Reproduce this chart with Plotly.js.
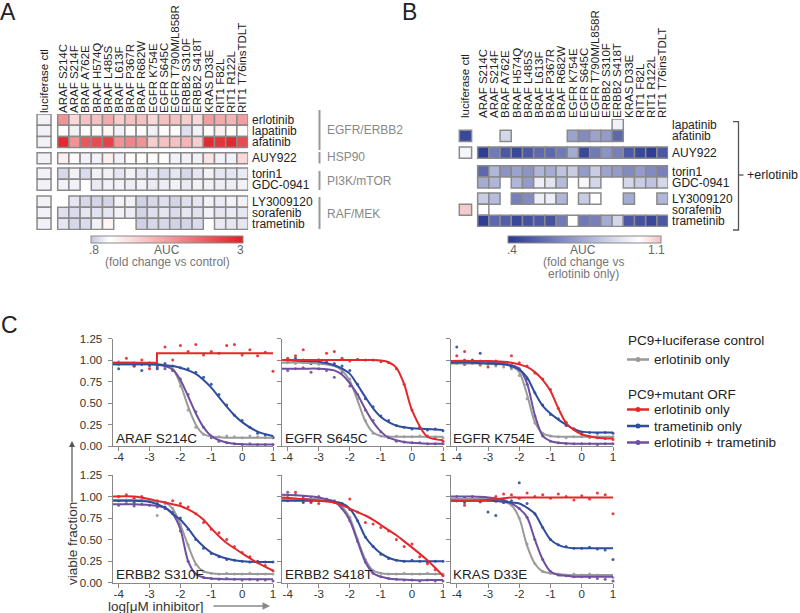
<!DOCTYPE html>
<html><head><meta charset="utf-8">
<script src="https://cdn.plot.ly/plotly-3.0.1.min.js"></script>
<style>html,body{margin:0;padding:0;background:#fff}#chart{width:800px;height:613px}</style>
</head><body><div id="chart"></div>
<script>
// ---------- Panel A / B data ----------
const mutants = ['ARAF S214C','ARAF S214F','BRAF A762E','BRAF H574Q','BRAF L485S','BRAF L613F','BRAF P367R','BRAF R682W','EGFR K754E','EGFR S645C','EGFR T790M/L858R','ERBB2 S310F','ERBB2 S418T','KRAS D33E','RIT1 F82L','RIT1 R122L','RIT1 T76insTDLT'];
const ctlLabel = 'luciferase ctl';
const drugsA = ['erlotinib','lapatinib','afatinib','AUY922','torin1','GDC-0941','LY3009120','sorafenib','trametinib'];
const drugsB = ['lapatinib','afatinib','AUY922','torin1','GDC-0941','LY3009120','sorafenib','trametinib'];

// Panel A: AUC fold change vs control (per drug, per mutant)
const aErlotinib  = [2.0,1.4,1.6,1.6,1.8,1.5,1.6,1.6,1.4,1.6,1.6,1.5,1.4,1.9,1.8,1.7,1.9];
const aLapatinib  = [1.1,1.0,1.1,1.1,1.15,1.0,1.1,1.1,1.0,1.1,1.05,0.92,1.0,1.1,1.2,1.1,1.1];
const aAfatinib   = [2.9,2.0,2.5,2.6,2.7,2.0,2.1,2.0,1.5,1.6,1.6,1.7,1.5,2.9,2.8,2.9,2.6];
const aAUY922     = [1.2,1.1,1.0,1.0,1.2,1.0,1.1,1.1,1.1,1.1,1.0,1.0,1.0,1.3,1.0,1.0,1.4];
const aTorin1     = [0.88,1.0,0.9,1.0,1.0,0.95,1.0,0.95,0.95,0.9,0.95,0.88,0.95,1.0,0.95,0.95,0.97];
const aGDC0941    = [1.0,1.0,null,0.97,1.0,1.0,0.98,1.0,0.97,0.98,1.0,0.97,1.0,1.0,0.98,0.98,1.0];
const aLY3009120  = [null,0.95,0.88,0.87,0.87,1.0,1.0,0.86,0.88,0.92,0.87,0.92,0.95,1.0,0.97,1.0,1.0];
const aSorafenib  = [0.92,0.9,0.95,0.93,0.95,1.0,0.98,0.87,0.92,0.95,0.9,0.95,0.93,1.0,0.95,0.97,0.95];
const aTrametinib = [0.95,0.88,0.9,1.0,1.15,null,null,0.85,0.88,0.88,0.86,0.87,0.9,null,0.97,0.95,0.95];
const aCtl        = [1,1,1,1,1,1,1,1,1];

// Panel B: AUC fold change vs erlotinib only
const bLapatinib  = [null,null,null,null,null,null,null,null,null,null,null,null,0.96,null,null,null,null];
const bAfatinib   = [null,null,0.88,null,null,null,null,null,0.72,0.65,0.72,0.7,0.55,null,null,null,null];
const bAUY922     = [0.42,0.6,0.5,0.45,0.5,0.55,0.55,0.6,0.75,0.45,0.6,0.68,0.62,0.5,0.45,0.42,0.5];
const bTorin1     = [0.55,0.78,0.68,0.72,0.68,0.78,0.75,0.82,0.85,0.7,0.85,0.72,0.7,0.65,0.7,0.65,0.62];
const bGDC0941    = [0.75,0.78,null,0.78,0.7,0.95,0.92,0.8,null,0.98,0.88,null,null,0.88,0.85,0.82,0.88];
const bLY3009120  = [0.85,0.8,null,0.62,0.65,0.95,0.95,0.78,null,0.85,1.0,null,null,0.75,null,null,0.78];
const bSorafenib  = [1.0,null,null,null,null,null,null,null,null,null,null,null,null,null,null,null,null];
const bTrametinib = [0.42,0.55,0.52,0.45,0.48,0.5,0.48,0.6,1.0,0.6,0.62,0.75,0.88,0.5,0.48,0.45,0.5];
const bCtl        = [null,0.45,0.97,null,null,null,1.08,null];

// colour-bar ends
const scaleA = [0.8, 3];
const scaleB = [0.4, 1.1];
const scaleLabelsA = ['.8','3'];
const scaleLabelsB = ['.4','1.1'];

// ---------- Panel C data ----------
const panelNames = ['ARAF S214C','EGFR S645C','EGFR K754E','ERBB2 S310F','ERBB2 S418T','KRAS D33E'];
const xTicks = [-4,-3,-2,-1,0,1];
const yTicks = [0,0.25,0.5,0.75,1,1.25];
const doseX = [-4,-3.75,-3.5,-3.25,-3,-2.75,-2.5,-2.25,-2,-1.75,-1.5,-1.25,-1,-0.75,-0.5,-0.25,0,0.25,0.5,0.75,1];
const fitX  = [-4.2,-3.5,-3,-2.5,-2.25,-2,-1.75,-1.5,-1.25,-1,-0.75,-0.5,-0.25,0,0.5,1];

const arafRedFitX   = [-4.2,-2.76,-2.76,1];
const arafRedFit    = [0.97,0.97,1.08,1.08];
const arafBlueFit   = [0.95,0.95,0.95,0.94,0.93,0.91,0.88,0.84,0.77,0.68,0.57,0.46,0.36,0.28,0.17,0.12];
const arafGrayFit   = [0.97,0.97,0.96,0.94,0.9,0.72,0.46,0.25,0.14,0.115,0.105,0.1,0.1,0.1,0.1,0.1];
const arafPurpleFit = [0.95,0.95,0.95,0.93,0.89,0.77,0.58,0.38,0.22,0.12,0.07,0.045,0.03,0.025,0.02,0.02];
const arafRedPts    = [0.97,1.02,0.93,1.0,0.9,0.95,1.15,1.0,1.17,1.1,1.18,1.06,1.1,1.08,1.17,1.18,1.06,1.12,1.05,1.09,0.87];
const arafBluePts   = [0.9,0.96,0.93,0.88,0.95,0.9,0.96,0.93,0.91,0.9,0.86,0.8,0.72,0.6,0.48,0.36,0.3,0.22,0.15,0.13,0.1];
const arafGrayPts   = [0.98,0.96,0.97,0.95,0.97,0.93,0.92,0.88,0.7,0.42,0.22,0.14,0.12,0.11,0.12,0.11,0.1,0.12,0.11,0.1,0.11];
const arafPurplePts = [0.95,0.96,0.94,0.95,0.93,0.92,0.9,0.88,0.78,0.6,0.4,0.22,0.1,0.06,0.04,0.03,0.02,0.03,0.02,0.02,0.02];

const s645RedFit    = [1.0,1.0,1.0,1.0,1.0,1.0,1.0,1.0,1.0,0.995,0.975,0.91,0.72,0.42,0.11,0.07];
const s645BlueFit   = [1.0,0.99,0.98,0.94,0.9,0.84,0.71,0.57,0.44,0.34,0.28,0.24,0.22,0.21,0.2,0.19];
const s645GrayFit   = [0.97,0.97,0.96,0.93,0.88,0.76,0.53,0.29,0.16,0.12,0.11,0.11,0.11,0.11,0.11,0.11];
const s645PurpleFit = [0.9,0.9,0.9,0.88,0.83,0.73,0.6,0.43,0.28,0.17,0.1,0.07,0.05,0.04,0.03,0.03];
const s645RedPts    = [1.02,1.05,1.12,0.98,1.0,1.08,1.1,1.02,0.99,1.01,1.0,1.0,0.98,0.97,0.9,0.72,0.42,0.22,0.12,0.1,0.06];
const s645BluePts   = [1.0,1.02,1.0,0.96,1.0,0.98,0.96,0.93,0.88,0.72,0.55,0.46,0.35,0.3,0.24,0.22,0.2,0.21,0.19,0.2,0.18];
const s645GrayPts   = [0.97,0.96,0.97,0.96,0.95,0.96,0.94,0.9,0.78,0.55,0.3,0.15,0.12,0.11,0.12,0.11,0.11,0.12,0.11,0.11,0.1];
const s645PurplePts = [0.88,0.9,0.91,0.86,0.9,0.88,0.8,0.86,0.7,0.6,0.42,0.3,0.17,0.1,0.06,0.05,0.04,0.04,0.03,0.03,0.03];

const k754RedFit    = [0.99,0.99,0.99,0.98,0.97,0.95,0.92,0.86,0.77,0.64,0.44,0.27,0.19,0.14,0.1,0.09];
const k754BlueFit   = [0.97,0.97,0.96,0.95,0.93,0.89,0.8,0.62,0.47,0.38,0.31,0.25,0.2,0.17,0.16,0.16];
const k754GrayFit   = [0.96,0.96,0.96,0.95,0.93,0.86,0.6,0.28,0.15,0.12,0.11,0.11,0.11,0.11,0.11,0.11];
const k754PurpleFit = [0.99,0.99,0.98,0.96,0.94,0.9,0.73,0.36,0.12,0.06,0.04,0.035,0.03,0.03,0.03,0.03];
const k754RedPts    = [1.05,1.1,0.98,0.95,0.92,0.99,0.96,1.05,0.97,0.93,0.85,0.78,0.66,0.44,0.28,0.2,0.14,0.11,0.1,0.09,0.08];
const k754BluePts   = [1.15,0.95,1.0,1.08,0.96,0.95,0.97,0.92,0.88,0.78,0.62,0.48,0.37,0.32,0.24,0.2,0.16,0.16,0.15,0.16,0.15];
const k754GrayPts   = [0.96,0.95,0.96,0.94,0.95,0.93,0.92,0.9,0.82,0.55,0.27,0.15,0.12,0.11,0.1,0.11,0.11,0.1,0.11,0.1,0.11];
const k754PurplePts = [0.98,1.0,0.97,0.99,0.96,0.97,0.95,0.94,0.9,0.72,0.35,0.12,0.06,0.04,0.03,0.03,0.03,0.03,0.02,0.03,0.03];

const s310RedFit    = [1.0,1.0,0.97,0.93,0.91,0.89,0.85,0.8,0.73,0.63,0.54,0.46,0.4,0.34,0.23,0.14];
const s310BlueFit   = [0.95,0.95,0.94,0.87,0.8,0.73,0.63,0.51,0.42,0.35,0.31,0.28,0.26,0.25,0.24,0.24];
const s310GrayFit   = [0.96,0.96,0.95,0.93,0.86,0.67,0.43,0.22,0.13,0.11,0.1,0.1,0.1,0.1,0.1,0.1];
const s310PurpleFit = [0.91,0.91,0.9,0.87,0.8,0.62,0.25,0.1,0.06,0.05,0.045,0.04,0.04,0.04,0.04,0.04];
const s310RedPts    = [1.0,1.02,0.98,1.0,0.96,0.95,0.93,0.95,0.92,0.88,0.8,0.7,0.62,0.58,0.5,0.42,0.35,0.3,0.24,0.2,0.14];
const s310BluePts   = [0.95,0.96,0.93,0.96,0.94,0.92,0.88,0.82,0.75,0.62,0.5,0.4,0.34,0.3,0.27,0.26,0.25,0.24,0.25,0.24,0.24];
const s310GrayPts   = [0.96,0.95,0.97,0.95,0.96,0.78,0.92,0.86,0.68,0.44,0.21,0.13,0.11,0.1,0.11,0.1,0.1,0.11,0.1,0.1,0.1];
const s310PurplePts = [0.9,0.92,0.89,0.91,0.9,0.88,0.86,0.8,0.6,0.25,0.1,0.06,0.05,0.04,0.05,0.04,0.03,0.04,0.03,0.03,0.02];

const s418RedFit    = [0.99,0.97,0.95,0.93,0.9,0.86,0.82,0.78,0.73,0.67,0.61,0.55,0.48,0.41,0.26,0.08];
const s418BlueFit   = [0.95,0.95,0.95,0.94,0.92,0.86,0.72,0.53,0.42,0.34,0.29,0.26,0.25,0.25,0.25,0.25];
const s418GrayFit   = [0.97,0.97,0.97,0.94,0.88,0.75,0.5,0.27,0.14,0.11,0.1,0.1,0.1,0.1,0.1,0.1];
const s418PurpleFit = [1.02,1.01,0.99,0.94,0.86,0.72,0.48,0.24,0.11,0.07,0.05,0.04,0.035,0.03,0.03,0.03];
const s418RedPts    = [0.99,1.05,0.95,0.93,0.92,0.96,0.95,0.9,0.97,0.82,0.7,0.68,0.64,0.6,0.5,0.42,0.45,0.3,0.22,0.15,0.08];
const s418BluePts   = [0.95,0.96,0.93,0.94,0.95,0.97,0.94,0.92,0.85,0.72,0.53,0.42,0.33,0.28,0.26,0.25,0.26,0.25,0.24,0.25,0.25];
const s418GrayPts   = [0.97,0.96,0.98,0.96,0.97,0.95,0.94,0.88,0.76,0.5,0.27,0.14,0.11,0.1,0.1,0.11,0.1,0.1,0.11,0.1,0.1];
const s418PurplePts = [1.05,1.02,1.0,0.98,1.0,0.96,0.93,0.86,0.72,0.48,0.24,0.11,0.07,0.05,0.04,0.03,0.03,0.02,0.03,0.02,0.02];

const d33RedFit     = [0.95,0.95,0.96,0.98,0.99,0.99,0.99,0.99,0.99,0.99,0.99,0.99,0.99,0.99,0.99,0.99];
const d33BlueFit    = [0.95,0.95,0.95,0.94,0.93,0.92,0.87,0.8,0.64,0.5,0.44,0.41,0.4,0.4,0.4,0.4];
const d33GrayFit    = [0.97,0.97,0.97,0.94,0.9,0.75,0.43,0.22,0.13,0.11,0.1,0.09,0.09,0.09,0.09,0.09];
const d33PurpleFit  = [1.0,1.0,0.99,0.96,0.92,0.86,0.76,0.5,0.27,0.13,0.09,0.08,0.07,0.07,0.07,0.07];
const d33RedPts     = [0.95,0.9,0.96,0.94,0.98,1.0,1.03,1.02,0.98,1.04,1.0,1.02,0.98,1.03,1.0,0.96,1.01,0.97,1.04,1.02,0.8];
const d33BluePts    = [0.95,0.93,0.97,0.94,0.82,0.78,0.93,0.95,1.16,0.92,0.8,0.64,0.5,0.44,0.42,0.4,0.4,0.41,0.39,0.38,0.27];
const d33GrayPts    = [0.96,0.97,0.96,0.95,0.96,0.94,0.93,0.9,0.75,0.45,0.22,0.13,0.11,0.1,0.09,0.1,0.09,0.1,0.09,0.08,0.06];
const d33PurplePts  = [1.0,0.99,1.0,0.98,0.97,0.96,0.95,0.92,0.86,0.76,0.5,0.27,0.13,0.09,0.08,0.07,0.07,0.06,0.05,0.04,0.02];

// legend texts
const legendCtlTitle = 'PC9+luciferase control';
const legendMutTitle = 'PC9+mutant ORF';
const legendNames = ['erlotinib only','erlotinib only','trametinib only','erlotinib + trametinib'];

// ---------- styling / layout helpers ----------
const FONT = 'Liberation Sans, Arial, Helvetica, sans-serif';
const COL = {red:'#e3282c', blue:'#2f4d9e', purple:'#6f4f9f', gray:'#9a9a9a'};
const W = 800, H = 613;
const PX = x => x / W;
const PY = y => 1 - y / H;

const traces = [];
const annotations = [];
const shapes = [];

// ---------- heatmap-style cell grids (bars with outlines) ----------
function cellTrace(rows, ctl, rowBase, ctlX, ctlW, axis, marker) {
  const x = [], base = [], y = [], w = [], c = [];
  rows.forEach((row, r) => {
    row.forEach((v, i) => {
      if (v === null) return;
      x.push(i + 1); base.push(rowBase[r]); y.push(1); w.push(1); c.push(v);
    });
    if (ctl[r] !== null) {
      x.push(ctlX); base.push(rowBase[r]); y.push(1); w.push(ctlW); c.push(ctl[r]);
    }
  });
  return {type:'bar', x:x, y:y, base:base, width:w, xaxis:'x'+axis.x, yaxis:'y'+axis.y,
    marker:Object.assign({color:c, line:{color:'#8a8a8a', width:1.5}}, marker),
    hoverinfo:'skip', showlegend:false};
}

const rowBaseA = [0,1,2,3.45,4.82,5.82,7.32,8.32,9.32];
const rowBaseB = [0,1,2.5,4.17,5.17,6.6,7.6,8.6];
const ctlXA = -0.72, ctlWA = 1.25, ctlXB = -0.59, ctlWB = 1.1;
const cbA = {cx:166.7, len:152}, cbB = {cx:584.5, len:153};

traces.push(cellTrace(
  [aErlotinib,aLapatinib,aAfatinib,aAUY922,aTorin1,aGDC0941,aLY3009120,aSorafenib,aTrametinib],
  aCtl, rowBaseA, ctlXA, ctlWA, {x:'',y:''},
  {colorscale:[[0,'#c4c5e0'],[0.12,'#ffffff'],[1,'#e01f26']], cmin:scaleA[0], cmax:scaleA[1], showscale:true,
   colorbar:{orientation:'h', x:PX(cbA.cx), xanchor:'center', y:PY(235.5), yanchor:'top', len:cbA.len, lenmode:'pixels',
     thickness:7, outlinecolor:'#8a8a8a', outlinewidth:1, showticklabels:false, ticks:'', xpad:0, ypad:0}}));

traces.push(cellTrace(
  [bLapatinib,bAfatinib,bAUY922,bTorin1,bGDC0941,bLY3009120,bSorafenib,bTrametinib],
  bCtl, rowBaseB, ctlXB, ctlWB, {x:'2',y:'2'},
  {colorscale:[[0,'#283791'],[0.857,'#ffffff'],[1,'#f3bfc2']], cmin:scaleB[0], cmax:scaleB[1], showscale:true,
   colorbar:{orientation:'h', x:PX(cbB.cx), xanchor:'center', y:PY(235.5), yanchor:'top', len:cbB.len, lenmode:'pixels',
     thickness:7, outlinecolor:'#8a8a8a', outlinewidth:1, showticklabels:false, ticks:'', xpad:0, ypad:0}}));

function heatX(domainPx, range, ctlX, anchor) {
  return {domain:[PX(domainPx[0]), PX(domainPx[1])], range:range, side:'top', tickangle:-90, anchor:anchor,
    tickvals:[ctlX].concat(mutants.map((m,i)=>i+1)), ticktext:[ctlLabel].concat(mutants),
    ticks:'', showgrid:false, zeroline:false, showline:false, automargin:false,
    tickfont:{size:11.5,color:'#222',family:FONT}};
}
function heatY(domainPx, range, rowBase, names, anchor) {
  return {domain:[PY(domainPx[1]), PY(domainPx[0])], range:range, side:'right', anchor:anchor,
    tickvals:rowBase.map(b=>b+0.5), ticktext:names, ticks:'', ticklabelstandoff:3, showgrid:false, zeroline:false,
    showline:false, automargin:false, tickfont:{size:12,color:'#222',family:FONT}};
}

// ---------- Panel C curves ----------
const panelSets = [
  {red:[arafRedFit,arafRedPts,arafRedFitX], blue:[arafBlueFit,arafBluePts], gray:[arafGrayFit,arafGrayPts], purple:[arafPurpleFit,arafPurplePts]},
  {red:[s645RedFit,s645RedPts], blue:[s645BlueFit,s645BluePts], gray:[s645GrayFit,s645GrayPts], purple:[s645PurpleFit,s645PurplePts]},
  {red:[k754RedFit,k754RedPts], blue:[k754BlueFit,k754BluePts], gray:[k754GrayFit,k754GrayPts], purple:[k754PurpleFit,k754PurplePts]},
  {red:[s310RedFit,s310RedPts], blue:[s310BlueFit,s310BluePts], gray:[s310GrayFit,s310GrayPts], purple:[s310PurpleFit,s310PurplePts]},
  {red:[s418RedFit,s418RedPts], blue:[s418BlueFit,s418BluePts], gray:[s418GrayFit,s418GrayPts], purple:[s418PurpleFit,s418PurplePts]},
  {red:[d33RedFit,d33RedPts], blue:[d33BlueFit,d33BluePts], gray:[d33GrayFit,d33GrayPts], purple:[d33PurpleFit,d33PurplePts]}
];
const colPx = [[112.5,273],[281.5,443],[450.5,613]];
const rowPx = [[338.5,446.3],[475,582.7]];
const order = ['gray','purple','blue','red'];

const layoutAxes = {};
panelSets.forEach((set, p) => {
  const n = p + 3, r = Math.floor(p/3), c = p % 3;
  const xa = 'x'+n, ya = 'y'+n;
  order.forEach(k => {
    traces.push({type:'scatter', mode:'markers', x:doseX, y:set[k][1], xaxis:xa, yaxis:ya,
      marker:{size:3, color:COL[k], opacity:0.9}, hoverinfo:'skip', showlegend:false, cliponaxis:false});
  });
  order.forEach(k => {
    const custom = set[k][2];
    traces.push({type:'scatter', mode:'lines', x:custom || fitX, y:set[k][0], xaxis:xa, yaxis:ya,
      line:{color:COL[k], width:2, shape: custom ? 'linear' : 'spline', smoothing:0.8},
      hoverinfo:'skip', showlegend:false});
  });
  layoutAxes['xaxis'+n] = {domain:[PX(colPx[c][0]), PX(colPx[c][1])], range:[-4.2,1.0], anchor:ya,
    tickvals:xTicks, ticktext:xTicks.map(String), ticks:'outside', ticklen:4, tickcolor:'#888',
    ticklabelstandoff:-4,
    showline:true, linecolor:'#888', linewidth:1, showgrid:false, zeroline:false, automargin:false,
    tickfont:{size:11.5,color:'#333',family:FONT}};
  layoutAxes['yaxis'+n] = {domain:[PY(rowPx[r][1]), PY(rowPx[r][0])], range:[0,1.25], anchor:xa,
    tickvals:yTicks, ticktext:yTicks.map(v=>v.toFixed(2)), showticklabels: c===0,
    ticks:'outside', ticklen:4, tickcolor:'#888', ticklabelstandoff:3,
    showline:true, linecolor:'#888', linewidth:1, showgrid:false, zeroline:false, automargin:false,
    tickfont:{size:11.5,color:'#333',family:FONT}};
  annotations.push({text:panelNames[p], xref:'paper', yref:'paper', x:PX(colPx[c][0]+1), y:PY(rowPx[r][1]-8),
    xanchor:'left', yanchor:'middle', showarrow:false, font:{size:13.5,color:'#222',family:FONT}});
});

// ---------- text / decorations ----------
const addText = (t, x, y, opts) => annotations.push(Object.assign({text:t, xref:'paper', yref:'paper',
  x:PX(x), y:PY(y), showarrow:false, xanchor:'center', yanchor:'middle',
  font:{size:12,color:'#222',family:FONT}}, opts||{}));

// legend (drawn by hand to match the reference spacing)
addText(legendCtlTitle, 626, 340, {xanchor:'left', font:{size:13.5,color:'#222',family:FONT}});
addText(legendMutTitle, 626, 394, {xanchor:'left', font:{size:13.5,color:'#222',family:FONT}});
const legendRows = [[COL.gray,359.5],[COL.red,409.5],[COL.blue,426],[COL.purple,442.5]];
legendRows.forEach((lr, i) => {
  shapes.push({type:'line', xref:'paper', yref:'paper', x0:PX(627), x1:PX(649), y0:PY(lr[1]), y1:PY(lr[1]),
    line:{color:lr[0], width:2.5}});
  shapes.push({type:'circle', xref:'paper', yref:'paper', x0:PX(635.5), x1:PX(640.5), y0:PY(lr[1]+2.5), y1:PY(lr[1]-2.5),
    fillcolor:lr[0], line:{color:lr[0], width:0}});
  addText(legendNames[i], 652, lr[1], {xanchor:'left', font:{size:13.5,color:'#222',family:FONT}});
});

addText('A', 8, 12, {font:{size:23,color:'#222',family:FONT}});
addText('B', 410, 12, {font:{size:23,color:'#222',family:FONT}});
addText('C', 9, 325, {font:{size:23,color:'#222',family:FONT}});

// colour-bar end labels and captions
const cbLabelStyle = {font:{size:12,color:'#666',family:FONT}};
addText(scaleLabelsA[0], cbA.cx - cbA.len/2 + 3, 250.5, cbLabelStyle);
addText(scaleLabelsA[1], cbA.cx + cbA.len/2 - 2, 250.5, cbLabelStyle);
addText(scaleLabelsB[0], cbB.cx - cbB.len/2 + 4, 250.5, cbLabelStyle);
addText(scaleLabelsB[1], cbB.cx + cbB.len/2 - 5, 250.5, cbLabelStyle);
addText('AUC', 167, 250.5, cbLabelStyle);
addText('(fold change vs control)', 167, 262, {font:{size:12,color:'#777',family:FONT}});
addText('AUC', 583, 250.5, cbLabelStyle);
addText('(fold change vs', 583, 262, {font:{size:12,color:'#777',family:FONT}});
addText('erlotinib only)', 583, 273.5, {font:{size:12,color:'#777',family:FONT}});

// group labels panel A
const groupA = [['EGFR/ERBB2',110,150,130],['HSP90',152,163.5,157],['PI3K/mTOR',171,190,181],['RAF/MEK',197,229,213.5]];
groupA.forEach(g => {
  shapes.push({type:'line', xref:'paper', yref:'paper', x0:PX(319.5), x1:PX(319.5), y0:PY(g[1]), y1:PY(g[2]),
    line:{color:'#999', width:2}});
  addText(g[0], 325, g[3], {xanchor:'left', font:{size:12,color:'#888',family:FONT}});
});

// bracket panel B
shapes.push({type:'path', xref:'paper', yref:'paper',
  path:`M ${PX(733)} ${PY(121.7)} L ${PX(738.5)} ${PY(121.7)} L ${PX(738.5)} ${PY(230)} L ${PX(733)} ${PY(230)}`,
  line:{color:'#555', width:1.3}});
shapes.push({type:'line', xref:'paper', yref:'paper', x0:PX(738.5), x1:PX(743.5), y0:PY(175), y1:PY(175),
  line:{color:'#555', width:1.3}});
addText('+erlotinib', 745, 175, {xanchor:'left', font:{size:12.5,color:'#222',family:FONT}});

// axis titles and arrows for panel C
addText('viable fraction', 72, 544, {textangle:-90, font:{size:13.5,color:'#333',family:FONT}});
annotations.push({text:'', xref:'paper', yref:'paper', x:PX(72), y:PY(441), ax:0, ay:63,
  showarrow:true, arrowhead:2, arrowsize:1, arrowwidth:1.2, arrowcolor:'#555'});
addText('log[μM inhibitor]', 156, 606, {font:{size:13.5,color:'#333',family:FONT}});
annotations.push({text:'', xref:'paper', yref:'paper', x:PX(270), y:PY(606), ax:-58, ay:0,
  showarrow:true, arrowhead:2, arrowsize:1, arrowwidth:1.5, arrowcolor:'#888'});

const layout = Object.assign({
  width:W, height:H, margin:{l:0,r:0,t:0,b:0}, paper_bgcolor:'#fff', plot_bgcolor:'rgba(0,0,0,0)',
  barmode:'overlay', font:{family:FONT, color:'#222'}, showlegend:false,
  xaxis: heatX([35.3,248.1], [-1.5,17.5], ctlXA, 'y'),
  yaxis: heatY([114,229.9], [10.35,0], rowBaseA, drugsA, 'x'),
  xaxis2: heatX([457.5,668.1], [-1.3,17.5], ctlXB, 'y2'),
  yaxis2: heatY([119,227.1], [9.65,0], rowBaseB, drugsB, 'x2'),
  annotations:annotations, shapes:shapes
}, layoutAxes);

Plotly.newPlot('chart', traces, layout, {displayModeBar:false, staticPlot:true});
</script>
</body></html>
